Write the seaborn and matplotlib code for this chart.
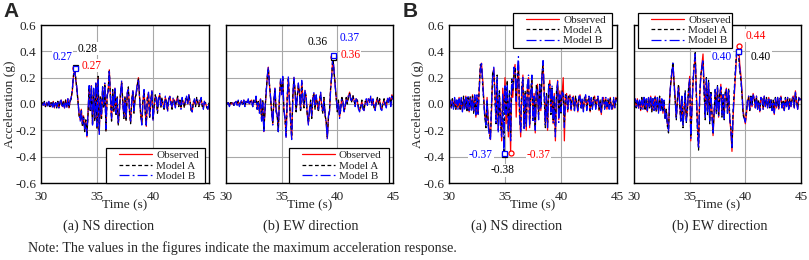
import numpy as np
import pandas as pd
import matplotlib
matplotlib.use("Agg")
import matplotlib.pyplot as plt
import seaborn as sns
from matplotlib.lines import Line2D
from matplotlib.legend_handler import HandlerLine2D
from matplotlib.ticker import FormatStrFormatter

## Acceleration records, one sample every 0.1 s from 30 s to 45 s (one row per second)
time_s = np.round(np.arange(300, 451) / 10, 1)

## Panel A, NS direction
a_ns_observed = [
    0.00, 0.01, -0.01, 0.01, -0.02, 0.01, -0.01, 0.02, -0.02, 0.01,
    -0.02, 0.02, -0.03, 0.01, -0.02, 0.02, -0.03, 0.01, 0.03, -0.02,
    0.02, -0.03, 0.03, -0.02, 0.04, -0.03, 0.02, 0.05, 0.10, 0.21,
    0.27, 0.19, 0.12, 0.03, -0.08, -0.12, -0.04, -0.16, -0.09, -0.20,
    -0.13, -0.25, -0.07, 0.12, -0.05, 0.14, -0.15, 0.10, -0.12, 0.16,
    -0.18, 0.20, -0.22, 0.05, -0.10, 0.12, -0.02, 0.15, -0.20, 0.06,
    0.10, 0.26, 0.05, -0.12, 0.10, -0.05, 0.12, -0.08, 0.05, -0.15,
    -0.05, 0.08, 0.17, 0.02, -0.10, 0.05, -0.12, 0.08, 0.12, -0.05,
    -0.14, 0.02, 0.10, -0.06, 0.04, 0.08, 0.15, 0.20, 0.05, -0.08,
    -0.15, 0.02, 0.10, -0.05, -0.17, 0.05, 0.08, -0.10, 0.02, 0.10,
    -0.12, -0.02, 0.06, 0.04, -0.06, 0.05, 0.07, -0.02, 0.04, 0.00,
    -0.04, 0.05, 0.02, -0.05, 0.03, 0.06, 0.01, -0.03, 0.04, 0.02,
    -0.02, 0.03, 0.05, -0.01, 0.02, -0.03, 0.04, 0.01, -0.02, 0.03,
    0.05, 0.00, 0.07, 0.02, -0.04, -0.06, 0.01, 0.03, -0.01, 0.04,
    0.02, -0.01, 0.02, 0.04, -0.01, -0.03, 0.02, 0.00, -0.02, -0.04,
    0.00,
]
a_ns_model_a = [
    0.00, 0.01, -0.01, 0.02, -0.02, 0.01, -0.01, 0.01, -0.02, 0.01,
    -0.02, 0.02, -0.02, 0.01, -0.03, 0.02, -0.02, 0.01, 0.02, -0.02,
    0.02, -0.02, 0.03, -0.02, 0.03, -0.03, 0.02, 0.04, 0.11, 0.22,
    0.28, 0.20, 0.11, 0.02, -0.09, -0.11, -0.05, -0.17, -0.10, -0.21,
    -0.12, -0.24, -0.08, 0.13, -0.06, 0.13, -0.16, 0.11, -0.13, 0.15,
    -0.19, 0.21, -0.21, 0.06, -0.11, 0.13, -0.03, 0.14, -0.21, 0.05,
    0.11, 0.25, 0.06, -0.13, 0.11, -0.06, 0.11, -0.09, 0.06, -0.16,
    -0.06, 0.09, 0.16, 0.03, -0.11, 0.06, -0.13, 0.07, 0.13, -0.06,
    -0.15, 0.03, 0.09, -0.07, 0.05, 0.07, 0.14, 0.19, 0.06, -0.09,
    -0.14, 0.03, 0.09, -0.06, -0.16, 0.06, 0.07, -0.11, 0.03, 0.09,
    -0.11, -0.03, 0.07, 0.03, -0.07, 0.06, 0.06, -0.03, 0.05, -0.01,
    -0.05, 0.04, 0.03, -0.04, 0.04, 0.05, 0.02, -0.04, 0.03, 0.03,
    -0.01, 0.02, 0.06, -0.02, 0.03, -0.02, 0.03, 0.02, -0.03, 0.04,
    0.04, 0.01, 0.06, 0.03, -0.05, -0.05, 0.02, 0.02, -0.02, 0.05,
    0.01, -0.02, 0.03, 0.03, -0.02, -0.02, 0.01, 0.01, -0.03, -0.03,
    0.01,
]
a_ns_model_b = [
    0.00, 0.00, -0.01, 0.01, -0.01, 0.02, -0.02, 0.02, -0.01, 0.01,
    -0.03, 0.01, -0.03, 0.02, -0.02, 0.01, -0.03, 0.02, 0.03, -0.03,
    0.01, -0.03, 0.02, -0.03, 0.04, -0.02, 0.03, 0.05, 0.12, 0.21,
    0.27, 0.18, 0.13, 0.02, -0.07, -0.13, -0.04, -0.15, -0.11, -0.19,
    -0.14, -0.24, -0.06, 0.14, -0.04, 0.15, -0.16, 0.12, -0.11, 0.17,
    -0.17, 0.19, -0.23, 0.04, -0.09, 0.13, -0.01, 0.16, -0.19, 0.07,
    0.09, 0.26, 0.04, -0.11, 0.09, -0.04, 0.13, -0.07, 0.04, -0.14,
    -0.04, 0.07, 0.18, 0.01, -0.09, 0.04, -0.11, 0.09, 0.11, -0.04,
    -0.13, 0.01, 0.11, -0.05, 0.03, 0.09, 0.16, 0.19, 0.04, -0.07,
    -0.16, 0.01, 0.11, -0.04, -0.16, 0.04, 0.09, -0.09, 0.01, 0.11,
    -0.13, -0.01, 0.05, 0.05, -0.05, 0.04, 0.08, -0.01, 0.03, 0.01,
    -0.03, 0.06, 0.01, -0.06, 0.02, 0.07, 0.00, -0.02, 0.05, 0.01,
    -0.03, 0.04, 0.04, 0.00, 0.01, -0.04, 0.05, 0.00, -0.01, 0.02,
    0.06, -0.01, 0.07, 0.01, -0.03, -0.06, 0.00, 0.04, 0.00, 0.03,
    0.03, 0.00, 0.01, 0.05, 0.00, -0.04, 0.03, -0.01, -0.01, -0.04,
    0.00,
]

## Panel A, EW direction
a_ew_observed = [
    0.00, 0.01, 0.00, -0.01, 0.01, 0.00, 0.01, -0.01, 0.01, 0.02,
    0.00, 0.02, -0.01, 0.01, 0.02, 0.00, 0.03, -0.01, 0.02, 0.01,
    0.03, 0.00, 0.02, 0.03, -0.01, 0.02, 0.01, 0.05, -0.03, 0.02,
    -0.06, 0.04, -0.12, 0.02, -0.21, -0.05, 0.08, 0.20, 0.28, 0.15,
    0.05, -0.06, -0.15, 0.02, 0.12, -0.05, -0.08, -0.20, 0.05, 0.18,
    0.08, 0.20, -0.05, -0.10, -0.25, 0.05, 0.20, 0.02, -0.12, -0.26,
    0.05, 0.20, 0.10, -0.05, 0.05, 0.15, 0.08, -0.05, 0.17, 0.05,
    -0.02, 0.10, 0.05, -0.08, -0.15, -0.05, 0.02, -0.10, 0.05, 0.08,
    -0.03, 0.06, 0.00, -0.05, 0.03, 0.08, -0.02, -0.06, 0.04, -0.08,
    -0.14, -0.26, -0.10, -0.05, 0.12, 0.22, 0.36, 0.25, 0.15, 0.05,
    -0.05, 0.02, -0.10, -0.04, 0.05, 0.02, -0.06, -0.02, 0.04, 0.01,
    0.06, 0.09, 0.04, 0.02, 0.06, 0.03, -0.01, 0.04, 0.02, -0.03,
    -0.05, -0.02, 0.02, -0.03, -0.05, 0.01, 0.03, 0.00, 0.04, 0.02,
    0.05, 0.00, 0.03, -0.02, -0.04, 0.02, 0.04, 0.01, 0.03, -0.03,
    -0.04, 0.01, 0.03, 0.00, -0.02, 0.04, 0.02, 0.05, -0.01, 0.07,
    0.04,
]
a_ew_model_a = [
    0.00, 0.00, 0.01, -0.01, 0.01, 0.01, 0.00, -0.01, 0.02, 0.01,
    0.01, 0.02, -0.01, 0.02, 0.01, 0.00, 0.02, -0.02, 0.02, 0.02,
    0.02, 0.01, 0.02, 0.02, -0.02, 0.03, 0.01, 0.04, -0.04, 0.03,
    -0.05, 0.03, -0.13, 0.03, -0.20, -0.06, 0.09, 0.19, 0.27, 0.16,
    0.04, -0.07, -0.14, 0.03, 0.11, -0.06, -0.09, -0.21, 0.06, 0.17,
    0.09, 0.19, -0.06, -0.11, -0.24, 0.06, 0.19, 0.03, -0.13, -0.25,
    0.06, 0.19, 0.11, -0.06, 0.06, 0.14, 0.09, -0.06, 0.16, 0.06,
    -0.03, 0.09, 0.06, -0.09, -0.14, -0.06, 0.03, -0.11, 0.06, 0.07,
    -0.04, 0.05, 0.01, -0.06, 0.04, 0.07, -0.03, -0.07, 0.05, -0.09,
    -0.13, -0.25, -0.11, -0.04, 0.13, 0.21, 0.36, 0.24, 0.16, 0.04,
    -0.06, 0.03, -0.09, -0.05, 0.06, 0.01, -0.05, -0.03, 0.05, 0.00,
    0.05, 0.08, 0.05, 0.01, 0.07, 0.02, 0.00, 0.03, 0.03, -0.02,
    -0.04, -0.03, 0.03, -0.02, -0.04, 0.02, 0.02, 0.01, 0.03, 0.03,
    0.04, 0.01, 0.02, -0.03, -0.03, 0.01, 0.05, 0.00, 0.04, -0.02,
    -0.03, 0.00, 0.04, -0.01, -0.01, 0.03, 0.03, 0.04, 0.00, 0.06,
    0.05,
]
a_ew_model_b = [
    0.01, 0.00, 0.01, -0.02, 0.00, 0.01, 0.01, -0.02, 0.01, 0.02,
    -0.01, 0.03, -0.02, 0.01, 0.03, -0.01, 0.03, -0.02, 0.03, 0.01,
    0.04, -0.01, 0.03, 0.02, -0.02, 0.03, 0.00, 0.06, -0.04, 0.01,
    -0.07, 0.05, -0.13, 0.01, -0.22, -0.04, 0.07, 0.21, 0.28, 0.14,
    0.06, -0.05, -0.16, 0.01, 0.13, -0.04, -0.09, -0.21, 0.04, 0.19,
    0.07, 0.21, -0.04, -0.11, -0.26, 0.04, 0.21, 0.01, -0.13, -0.27,
    0.04, 0.21, 0.09, -0.04, 0.04, 0.16, 0.07, -0.04, 0.18, 0.04,
    -0.01, 0.11, 0.04, -0.07, -0.16, -0.04, 0.01, -0.09, 0.04, 0.09,
    -0.02, 0.07, -0.01, -0.04, 0.02, 0.09, -0.01, -0.05, 0.03, -0.07,
    -0.15, -0.27, -0.09, -0.06, 0.11, 0.23, 0.37, 0.26, 0.14, 0.06,
    -0.04, 0.01, -0.11, -0.03, 0.04, 0.03, -0.07, -0.01, 0.03, 0.02,
    0.07, 0.08, 0.03, 0.03, 0.05, 0.04, -0.02, 0.05, 0.01, -0.04,
    -0.06, -0.01, 0.01, -0.04, -0.05, 0.00, 0.04, -0.01, 0.05, 0.01,
    0.06, -0.01, 0.04, -0.01, -0.05, 0.03, 0.03, 0.02, 0.02, -0.04,
    -0.05, 0.02, 0.02, 0.01, -0.03, 0.05, 0.01, 0.06, -0.02, 0.07,
    0.03,
]

## Panel B, NS direction
b_ns_observed = [
    0.00, 0.02, -0.03, 0.03, -0.02, 0.04, -0.04, 0.02, -0.03, 0.05,
    -0.04, 0.03, -0.05, 0.05, -0.03, 0.06, -0.05, 0.04, -0.06, 0.05,
    -0.04, 0.07, -0.06, 0.05, -0.10, 0.06, -0.08, 0.12, 0.28, 0.31,
    0.20, 0.05, -0.08, -0.15, 0.05, -0.12, -0.20, -0.27, -0.05, 0.22,
    0.27, 0.10, -0.12, 0.18, -0.20, 0.05, -0.10, -0.28, 0.12, -0.05,
    0.20, -0.15, 0.10, -0.25, 0.05, -0.37, 0.15, 0.05, 0.25, 0.30,
    -0.10, 0.15, 0.32, -0.05, -0.25, 0.10, 0.22, -0.15, 0.05, -0.20,
    0.12, 0.20, -0.18, 0.05, 0.18, -0.10, 0.08, -0.22, 0.10, 0.15,
    -0.08, 0.12, -0.05, 0.20, 0.30, 0.10, -0.15, 0.05, -0.20, 0.12,
    0.18, -0.05, 0.10, -0.15, 0.08, -0.28, 0.05, 0.18, -0.12, 0.10,
    -0.05, 0.08, 0.20, -0.28, 0.05, 0.08, -0.06, 0.04, 0.07, -0.05,
    0.03, 0.06, -0.04, 0.05, 0.02, -0.06, 0.04, 0.07, -0.02, 0.03,
    -0.05, 0.04, 0.06, -0.03, 0.02, 0.05, -0.06, 0.03, -0.02, 0.04,
    0.06, -0.03, 0.02, 0.05, -0.05, 0.02, -0.08, 0.03, 0.05, -0.02,
    0.04, -0.04, 0.02, -0.03, 0.05, -0.02, -0.04, 0.03, -0.03, 0.05,
    0.03,
]
b_ns_model_a = [
    0.01, 0.02, -0.02, 0.04, -0.03, 0.03, -0.05, 0.03, -0.02, 0.04,
    -0.05, 0.04, -0.04, 0.06, -0.04, 0.05, -0.06, 0.05, -0.05, 0.06,
    -0.05, 0.06, -0.07, 0.06, -0.09, 0.05, -0.07, 0.14, 0.30, 0.28,
    0.15, 0.02, -0.10, -0.18, 0.02, -0.15, -0.22, -0.25, 0.00, 0.25,
    0.22, 0.05, -0.15, 0.22, -0.15, 0.10, -0.15, -0.22, 0.05, -0.38,
    0.12, -0.05, 0.18, -0.20, 0.10, -0.25, 0.20, 0.10, 0.22, 0.28,
    0.05, 0.20, 0.30, -0.10, -0.20, 0.15, 0.18, -0.18, 0.10, -0.15,
    0.15, 0.18, -0.15, 0.10, 0.20, -0.12, 0.05, -0.18, 0.15, 0.10,
    -0.10, 0.15, -0.02, 0.22, 0.32, 0.05, -0.18, 0.08, -0.15, 0.15,
    0.15, -0.08, 0.12, -0.12, 0.05, -0.22, 0.10, 0.15, -0.10, 0.05,
    -0.08, 0.10, 0.05, -0.15, 0.08, 0.05, -0.04, 0.06, 0.05, -0.03,
    0.05, 0.04, -0.05, 0.06, 0.01, -0.04, 0.05, 0.05, -0.03, 0.04,
    -0.04, 0.05, 0.05, -0.04, 0.03, 0.04, -0.05, 0.04, -0.03, 0.05,
    0.05, -0.02, 0.03, 0.04, -0.04, 0.03, -0.06, 0.04, 0.04, -0.03,
    0.03, -0.03, 0.03, -0.02, 0.04, -0.03, -0.03, 0.04, -0.02, 0.04,
    0.04,
]
b_ns_model_b = [
    -0.01, 0.03, -0.03, 0.02, -0.04, 0.05, -0.03, 0.03, -0.04, 0.04,
    -0.03, 0.05, -0.06, 0.04, -0.05, 0.05, -0.04, 0.06, -0.05, 0.04,
    -0.06, 0.05, -0.05, 0.07, -0.08, 0.07, -0.09, 0.10, 0.26, 0.32,
    0.18, 0.03, -0.12, -0.16, 0.04, -0.17, -0.24, -0.28, 0.02, 0.20,
    0.28, 0.06, -0.14, 0.20, -0.22, 0.08, -0.18, -0.25, 0.08, -0.37,
    0.15, -0.08, 0.15, -0.22, 0.08, -0.28, 0.18, 0.12, 0.28, 0.25,
    0.02, 0.25, 0.36, -0.08, -0.22, 0.12, 0.20, -0.20, 0.08, -0.18,
    0.14, 0.22, -0.16, 0.08, 0.22, -0.14, 0.06, -0.20, 0.12, 0.12,
    -0.12, 0.14, -0.04, 0.24, 0.33, 0.08, -0.16, 0.06, -0.18, 0.14,
    0.16, -0.06, 0.14, -0.14, 0.06, -0.25, 0.08, 0.17, -0.14, 0.07,
    -0.06, 0.09, 0.08, -0.18, 0.06, 0.06, -0.05, 0.05, 0.06, -0.04,
    0.04, 0.05, -0.06, 0.04, 0.03, -0.05, 0.06, 0.06, -0.04, 0.05,
    -0.06, 0.03, 0.07, -0.05, 0.01, 0.06, -0.04, 0.05, -0.04, 0.03,
    0.04, -0.04, 0.04, 0.06, -0.03, 0.01, -0.07, 0.05, 0.03, -0.04,
    0.05, -0.02, 0.04, -0.04, 0.03, -0.04, -0.02, 0.05, -0.04, 0.03,
    0.02,
]

## Panel B, EW direction
b_ew_observed = [
    0.00, 0.03, -0.02, 0.04, -0.03, 0.02, -0.05, 0.04, -0.03, 0.05,
    -0.04, 0.03, -0.06, 0.05, -0.02, 0.06, -0.05, 0.03, -0.04, 0.06,
    -0.05, 0.04, -0.06, 0.05, -0.04, 0.03, -0.07, 0.02, -0.10, -0.05,
    -0.15, -0.20, 0.05, 0.15, 0.22, 0.30, 0.18, 0.05, -0.10, 0.02,
    0.14, 0.02, -0.12, 0.05, -0.16, -0.05, 0.08, -0.12, -0.05, 0.10,
    0.21, -0.28, -0.05, 0.15, 0.28, 0.37, 0.10, -0.15, -0.33, 0.05,
    0.20, 0.30, 0.38, 0.12, -0.10, 0.18, -0.05, 0.15, -0.12, 0.08,
    -0.05, -0.24, -0.08, 0.10, -0.05, 0.12, -0.10, 0.05, 0.15, -0.08,
    0.05, -0.10, 0.08, 0.12, -0.05, 0.10, -0.12, -0.20, -0.36, -0.10,
    0.05, 0.20, 0.35, 0.42, 0.44, 0.30, 0.22, 0.10, -0.05, -0.10,
    -0.15, -0.08, 0.02, 0.06, -0.04, 0.05, -0.02, 0.08, 0.04, -0.03,
    0.06, -0.04, 0.02, -0.06, 0.05, 0.03, -0.04, 0.06, -0.02, 0.04,
    -0.03, 0.05, -0.02, 0.03, -0.05, 0.02, -0.08, 0.04, -0.03, 0.05,
    -0.04, 0.03, 0.06, -0.03, 0.02, -0.05, 0.04, -0.02, 0.05, -0.04,
    0.03, -0.02, 0.04, 0.06, -0.03, 0.10, 0.02, -0.04, 0.05, 0.03,
    0.04,
]
b_ew_model_a = [
    0.01, 0.02, -0.03, 0.03, -0.02, 0.03, -0.04, 0.05, -0.02, 0.04,
    -0.05, 0.04, -0.05, 0.04, -0.03, 0.05, -0.06, 0.04, -0.03, 0.05,
    -0.06, 0.05, -0.05, 0.06, -0.05, 0.04, -0.06, 0.03, -0.12, -0.04,
    -0.17, -0.22, 0.03, 0.16, 0.25, 0.32, 0.15, 0.02, -0.12, 0.04,
    0.15, 0.00, -0.14, 0.06, -0.18, -0.03, 0.10, -0.14, -0.03, 0.12,
    0.18, -0.25, -0.02, 0.18, 0.30, 0.39, 0.05, -0.20, -0.35, 0.08,
    0.22, 0.28, 0.32, 0.08, -0.12, 0.20, -0.08, 0.18, -0.15, 0.10,
    -0.08, -0.22, -0.05, 0.12, -0.08, 0.14, -0.08, 0.08, 0.12, -0.10,
    0.08, -0.12, 0.10, 0.10, -0.08, 0.12, -0.10, -0.18, -0.33, -0.05,
    0.10, 0.25, 0.38, 0.40, 0.36, 0.25, 0.18, 0.06, -0.08, -0.12,
    -0.13, -0.05, 0.04, 0.05, -0.05, 0.06, -0.01, 0.06, 0.05, -0.02,
    0.05, -0.03, 0.03, -0.05, 0.04, 0.04, -0.03, 0.05, -0.01, 0.05,
    -0.02, 0.04, -0.03, 0.04, -0.04, 0.03, -0.06, 0.05, -0.02, 0.04,
    -0.03, 0.04, 0.05, -0.02, 0.03, -0.04, 0.05, -0.01, 0.04, -0.03,
    0.04, -0.01, 0.03, 0.05, -0.02, 0.08, 0.03, -0.03, 0.04, 0.04,
    0.03,
]
b_ew_model_b = [
    -0.01, 0.04, -0.02, 0.03, -0.04, 0.03, -0.04, 0.03, -0.04, 0.05,
    -0.03, 0.04, -0.05, 0.06, -0.03, 0.05, -0.04, 0.04, -0.05, 0.05,
    -0.04, 0.05, -0.07, 0.04, -0.05, 0.04, -0.06, 0.03, -0.11, -0.06,
    -0.16, -0.21, 0.04, 0.17, 0.24, 0.31, 0.16, 0.03, -0.11, 0.03,
    0.13, 0.01, -0.13, 0.07, -0.17, -0.04, 0.09, -0.13, -0.04, 0.11,
    0.19, -0.26, -0.04, 0.17, 0.29, 0.38, 0.07, -0.18, -0.34, 0.07,
    0.21, 0.29, 0.34, 0.10, -0.11, 0.19, -0.07, 0.17, -0.14, 0.09,
    -0.07, -0.23, -0.06, 0.11, -0.07, 0.13, -0.09, 0.07, 0.13, -0.09,
    0.07, -0.11, 0.09, 0.11, -0.07, 0.11, -0.11, -0.19, -0.34, -0.07,
    0.08, 0.23, 0.37, 0.40, 0.37, 0.27, 0.20, 0.08, -0.07, -0.11,
    -0.14, -0.06, 0.03, 0.06, -0.04, 0.05, -0.02, 0.07, 0.04, -0.03,
    0.06, -0.04, 0.02, -0.05, 0.05, 0.03, -0.04, 0.06, -0.02, 0.04,
    -0.03, 0.05, -0.02, 0.03, -0.05, 0.02, -0.07, 0.04, -0.03, 0.05,
    -0.04, 0.03, 0.06, -0.03, 0.02, -0.05, 0.04, -0.02, 0.05, -0.04,
    0.03, -0.02, 0.04, 0.06, -0.03, 0.09, 0.02, -0.04, 0.05, 0.03,
    0.04,
]

series_names = ["Observed", "Model A", "Model B"]
x_ticks = [30, 35, 40, 45]
y_ticks = [-0.6, -0.4, -0.2, 0.0, 0.2, 0.4, 0.6]
captions = ["(a) NS direction", "(b) EW direction", "(a) NS direction", "(b) EW direction"]
note_text = "Note: The values in the figures indicate the maximum acceleration response."

## Styles
colors = {"Observed": "#ff0000", "Model A": "#000000", "Model B": "#0000ff"}
dashes = {"Observed": "", "Model A": (3, 2), "Model B": (8, 2.5, 1.5, 2.5)}
markers = {"Observed": "o", "Model A": "s", "Model B": "s"}
LW = 0.9

sns.set_style("white")
plt.rcParams["font.family"] = ["Liberation Serif", "DejaVu Serif"]
plt.rcParams["axes.unicode_minus"] = False


class PaddedLine(HandlerLine2D):
    """Legend line handler that leaves an empty gap in front of the line."""
    def create_artists(self, legend, orig_handle, xdescent, ydescent, width,
                       height, fontsize, trans):
        lead = 1.0 * fontsize
        return super().create_artists(legend, orig_handle, xdescent - lead, ydescent,
                                      width - lead, height, fontsize, trans)


def draw_panel(ax, observed, model_a, model_b, label_pos, legend_box, legend_loc, show_y):
    df = pd.DataFrame({
        "Time (s)": np.tile(time_s, 3),
        "Acceleration (g)": np.concatenate([observed, model_a, model_b]),
        "Series": np.repeat(series_names, len(time_s)),
    })
    sns.lineplot(data=df, x="Time (s)", y="Acceleration (g)", hue="Series", style="Series",
                 hue_order=series_names, style_order=series_names, palette=colors,
                 dashes=dashes, estimator=None, sort=False, lw=LW, legend=False, ax=ax)

    # peak markers and their values
    for name, vals in zip(series_names, (observed, model_a, model_b)):
        vals = np.asarray(vals)
        i = int(np.argmax(np.abs(vals)))
        ax.plot(time_s[i], vals[i], marker=markers[name], ms=3.6, mfc="white",
                mec=colors[name], mew=0.9, ls="none", zorder=4)
        tx, ty = label_pos[name]
        ax.text(tx, ty, f"{vals[i]:.2f}", color=colors[name], fontsize=8.3,
                ha="center", va="center", zorder=4,
                bbox=dict(fc="white", ec="none", pad=0.4))

    ax.set_xlim(30, 45)
    ax.set_ylim(-0.6, 0.6)
    ax.set_xticks(x_ticks)
    ax.set_yticks(y_ticks)
    ax.yaxis.set_major_formatter(FormatStrFormatter("%.1f"))
    ax.set_axisbelow(True)
    ax.grid(True, color="#a8a8a8", lw=0.8)
    ax.tick_params(axis="x", length=0, labelsize=9.5, pad=5.6)
    ax.tick_params(axis="y", length=0, labelsize=9.5, pad=3.2)
    for sp in ax.spines.values():
        sp.set_color("black")
        sp.set_linewidth(1.0)
    ax.set_xlabel("Time (s)", fontsize=9.6)
    ax.xaxis.set_label_coords(0.5, -0.1)
    if show_y:
        ax.set_ylabel("Acceleration (g)", fontsize=9.6)
        ax.yaxis.set_label_coords(-0.15, 0.5)
    else:
        ax.set_ylabel("")
        ax.tick_params(axis="y", labelleft=False)

    handles = [Line2D([], [], color=colors[n], lw=LW,
                      ls="-" if dashes[n] == "" else (0, dashes[n])) for n in series_names]
    leg = ax.legend(handles, series_names, loc=legend_loc, bbox_to_anchor=legend_box,
                    mode="expand", borderaxespad=0, fontsize=8, handlelength=3.9,
                    handletextpad=0.4, labelspacing=0.04, borderpad=0.2,
                    fancybox=False, framealpha=1, edgecolor="black",
                    handler_map={Line2D: PaddedLine()})
    leg.get_frame().set_linewidth(0.9)
    leg.set_zorder(6)


fig = plt.figure(figsize=(8.09, 2.6), dpi=100)
W, H = 809, 260
ax_px = [(41, 168), (226, 167), (449, 168), (634, 167)]
axes = [fig.add_axes([x / W, 77 / H, w / W, 158 / H]) for x, w in ax_px]

draw_panel(axes[0], a_ns_observed, a_ns_model_a, a_ns_model_b,
           {"Observed": (34.55, 0.29), "Model A": (34.2, 0.42), "Model B": (31.9, 0.36)},
           (0.387, 0.0, 0.589, 0.5), "lower left", True)
draw_panel(axes[1], a_ew_observed, a_ew_model_a, a_ew_model_b,
           {"Observed": (41.2, 0.375), "Model A": (38.27, 0.47), "Model B": (41.1, 0.505)},
           (0.377, 0.0, 0.599, 0.5), "lower left", False)
draw_panel(axes[2], b_ns_observed, b_ns_model_a, b_ns_model_b,
           {"Observed": (38.0, -0.385), "Model A": (34.8, -0.505), "Model B": (32.86, -0.385)},
           (0.381, 0.0, 0.589, 1.076), "upper left", True)
draw_panel(axes[3], b_ew_observed, b_ew_model_a, b_ew_model_b,
           {"Observed": (40.96, 0.52), "Model A": (41.4, 0.36), "Model B": (37.9, 0.355)},
           (0.024, 0.0, 0.563, 1.076), "upper left", False)

## Captions, note and panel letters
cap_px = [109, 311, 517, 720]
for cx, cap in zip(cap_px, captions):
    fig.text(cx / W, 1 - 226 / H, cap, ha="center", va="center", fontsize=10.2)
fig.text(28 / W, 1 - 248 / H, note_text, ha="left", va="center", fontsize=10.1)
fig.text(3 / W, 1 - 2 / H, "A", ha="left", va="top", fontsize=15, fontweight="bold",
         family="Liberation Sans")
fig.text(403 / W, 1 - 2 / H, "B", ha="left", va="top", fontsize=15, fontweight="bold",
         family="Liberation Sans")

fig.savefig("out.png", dpi=100)
